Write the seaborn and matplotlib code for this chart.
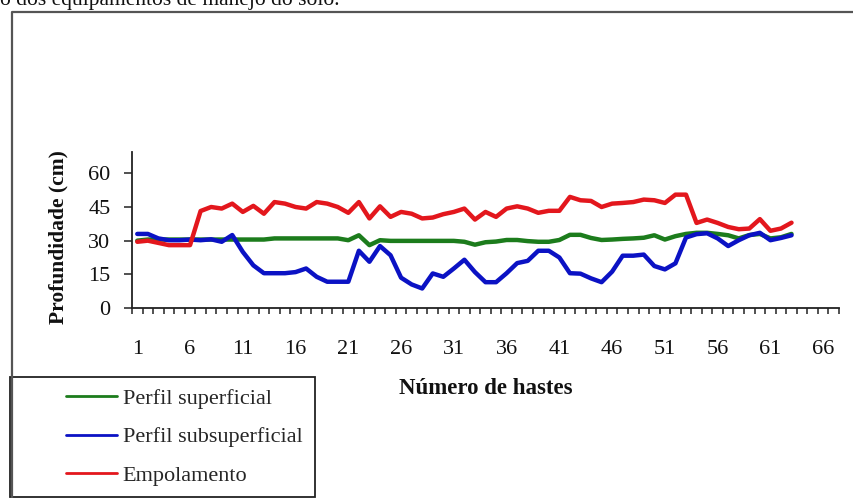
import matplotlib
matplotlib.use("Agg")
import matplotlib.pyplot as plt
from matplotlib.lines import Line2D
from matplotlib.patches import Rectangle
import pandas as pd
import seaborn as sns

# data
hastes = list(range(1, 64))
perfil_superficial = [
    30.0, 30.5, 30.5, 30.5, 30.5, 30.5, 30.5, 30.5, 30.5, 30.5,
    30.5, 30.5, 30.5, 31.0, 31.0, 31.0, 31.0, 31.0, 31.0, 31.0,
    30.2, 32.4, 28.0, 30.2, 29.9, 29.9, 29.9, 29.9, 29.9, 29.9,
    29.9, 29.5, 28.2, 29.3, 29.6, 30.3, 30.3, 29.8, 29.5, 29.5,
    30.3, 32.6, 32.6, 31.2, 30.3, 30.5, 30.8, 31.0, 31.3, 32.4,
    30.5, 32.0, 33.0, 33.5, 33.5, 33.0, 32.4, 31.0, 32.5, 33.0,
    31.0, 31.5, 33.0,
]
perfil_subsuperficial = [
    33.0, 33.0, 31.0, 30.2, 30.2, 30.5, 30.2, 30.6, 29.5, 32.5,
    25.0, 19.0, 15.5, 15.5, 15.5, 16.0, 17.6, 13.9, 11.7, 11.7,
    11.7, 25.5, 20.6, 27.6, 23.5, 13.5, 10.5, 8.7, 15.4, 13.9,
    17.6, 21.5, 16.0, 11.5, 11.5, 15.5, 20.0, 21.0, 25.5, 25.5,
    22.5, 15.5, 15.3, 13.2, 11.5, 16.2, 23.3, 23.3, 23.8, 18.7,
    17.2, 19.9, 31.4, 32.9, 33.3, 31.0, 27.6, 30.2, 32.4, 33.5,
    30.2, 31.2, 32.4,
]
empolamento = [
    29.5, 30.0, 29.0, 28.0, 28.0, 28.0, 43.2, 45.0, 44.3, 46.5,
    42.8, 45.5, 42.0, 47.2, 46.5, 45.0, 44.3, 47.2, 46.5, 45.0,
    42.4, 47.2, 39.9, 45.3, 40.6, 42.8, 42.0, 39.9, 40.3, 41.8,
    42.8, 44.3, 39.4, 42.8, 40.6, 44.3, 45.3, 44.3, 42.4, 43.3,
    43.3, 49.5, 48.0, 47.7, 45.0, 46.5, 46.8, 47.2, 48.3, 48.0,
    46.8, 50.5, 50.5, 37.9, 39.4, 37.9, 36.1, 35.1, 35.4, 39.6,
    34.4, 35.4, 38.0,
]
series_names = ["Perfil superficial", "Perfil subsuperficial", "Empolamento"]
series_colors = ["#1c7c1c", "#0b12c4", "#e3171d"]
x_tick_labels = list(range(1, 67, 5))
y_ticks = [0, 15, 30, 45, 60]

W, H = 854, 498


def fx(px):
    return px / W


def fy(py):
    return 1 - py / H


sns.set_theme(style="white")
plt.rcParams["font.family"] = ["Liberation Serif", "DejaVu Serif"]

df = pd.DataFrame({
    "haste": hastes * 3,
    "valor": perfil_superficial + perfil_subsuperficial + empolamento,
    "serie": [n for n in series_names for _ in hastes],
})

fig = plt.figure(figsize=(W / 100, H / 100), dpi=100)
ax = fig.add_axes([fx(132), fy(308), (839 - 132) / W, (308 - 152) / H])
sns.lineplot(data=df, x="haste", y="valor", hue="serie", hue_order=series_names,
             palette=series_colors, linewidth=3.2, ax=ax, legend=False)

ax.set_xlim(0.5, 67.5)
ax.set_ylim(0, 69.5)
ax.set_xticks(x_tick_labels)
ax.set_xticks([i + 0.5 for i in range(0, 68)], minor=True)
ax.set_yticks(y_ticks)
ax.set_xlabel("")
ax.set_ylabel("")
for side in ("top", "right"):
    ax.spines[side].set_visible(False)
for side in ("left", "bottom"):
    ax.spines[side].set_color("#222222")
    ax.spines[side].set_linewidth(1.3)
ax.tick_params(axis="x", which="major", length=0, pad=23, labelsize=16, colors="#111111")
ax.tick_params(axis="x", which="minor", bottom=True, length=4, width=1.1, color="#222222", direction="out")
ax.tick_params(axis="y", which="major", left=True, length=5.5, width=1.1, color="#222222",
               pad=10, labelsize=16, labelcolor="#111111")

fig.text(fx(58), fy(237), "Profundidade (cm)", rotation=90, ha="center", va="center",
         fontsize=15.5, fontweight="bold", color="#111111")
fig.text(fx(486), fy(388), "Número de hastes", ha="center", va="center",
         fontsize=16.5, fontweight="bold", color="#111111")

# chart area border and the cut-off caption above it
fig.add_artist(Line2D([fx(12), fx(12), fx(860)], [fy(505), fy(12), fy(12)],
                      transform=fig.transFigure, color="#555555", lw=1.6))
fig.text(fx(0), fy(5), "o dos equipamentos de manejo do solo.", ha="left", va="baseline",
         fontsize=15.5, color="#111111")

handles = [Line2D([], [], color=c, lw=2) for c in series_colors]
ax.legend(handles, series_names, loc="upper left", bbox_to_anchor=(fx(66), fy(388)),
          bbox_transform=fig.transFigure, frameon=False, fontsize=16, handlelength=2.3,
          handletextpad=0.25, labelspacing=0.82, borderpad=0, borderaxespad=0)
fig.add_artist(Rectangle((fx(10), fy(497)), (315 - 10) / W, (497 - 377) / H,
                         transform=fig.transFigure, fill=False, ec="#222222", lw=1.3))

fig.savefig("out.png", dpi=100)
